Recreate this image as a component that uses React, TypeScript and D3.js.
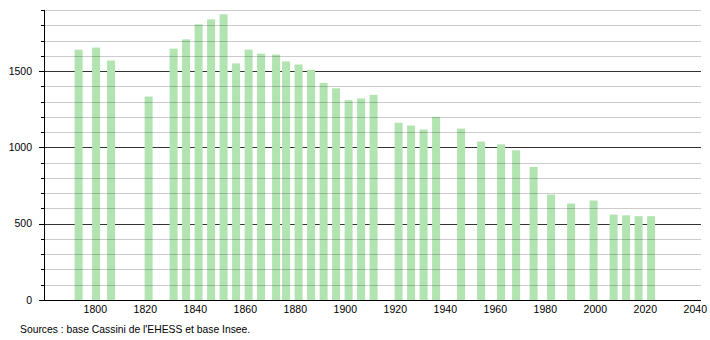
import React from "react";
import * as d3 from "d3";

const years = [1793, 1800, 1806, 1821, 1831, 1836, 1841, 1846, 1851, 1856, 1861, 1866, 1872, 1876, 1881, 1886, 1891, 1896, 1901, 1906, 1911, 1921, 1926, 1931, 1936, 1946, 1954, 1962, 1968, 1975, 1982, 1990, 1999, 2007, 2012, 2017, 2022];
const population = [1640, 1654, 1569, 1333, 1647, 1708, 1806, 1839, 1872, 1550, 1640, 1614, 1608, 1563, 1543, 1508, 1422, 1387, 1309, 1320, 1344, 1161, 1143, 1117, 1200, 1123, 1038, 1020, 981, 872, 691, 632, 652, 560, 555, 549, 549];
const xTicks = [1800, 1820, 1840, 1860, 1880, 1900, 1920, 1940, 1960, 1980, 2000, 2020, 2040];
const yMajorTicks = [0, 500, 1000, 1500];
const yMinorTicks = d3.range(100, 2000, 100).filter((v) => v % 500 !== 0);
const sourceText = "Sources : base Cassini de l'EHESS et base Insee.";

const W = 710;
const H = 340;
const left = 44;
const right = 701;
const bottom = 300;
const top = 10;

export default function App() {
  const x = d3.scaleLinear().domain([1779.48, 2042.28]).range([left, right]);
  const y = d3.scaleLinear().domain([0, 1900]).range([bottom, top]);
  const barW = 8;
  const font = "'Liberation Sans', Arial, sans-serif";

  return (
    <svg width={W} height={H} style={{ position: "absolute", left: 0, top: 0, background: "#fff" }} fontFamily={font}>
      {yMajorTicks.filter((v) => v > 0).map((v) => (
        <line key={"M" + v} x1={left} x2={right} y1={Math.round(y(v)) + 0.5} y2={Math.round(y(v)) + 0.5} stroke="#333" strokeWidth={1} />
      ))}
      {years.map((yr, i) => (
        <rect key={yr} x={x(yr) - barW / 2 + 0.8} y={y(population[i])} width={barW} height={bottom - y(population[i])} fill="#b2e4b2" />
      ))}
      {yMinorTicks.map((v) => (
        <line key={"m" + v} x1={left} x2={right} y1={Math.round(y(v)) + 0.5} y2={Math.round(y(v)) + 0.5} stroke="rgba(0,0,0,0.2)" strokeWidth={1} />
      ))}
      <line x1={left + 0.5} x2={left + 0.5} y1={top} y2={bottom} stroke="#000" strokeWidth={1} />
      {yMinorTicks.map((v) => (
        <line key={"mt" + v} x1={left - 3} x2={left} y1={Math.round(y(v)) + 0.5} y2={Math.round(y(v)) + 0.5} stroke="#000" strokeWidth={1} />
      ))}
      {yMajorTicks.map((v) => (
        <g key={"Mt" + v}>
          <line x1={left - 5} x2={left} y1={Math.round(y(v)) + 0.5} y2={Math.round(y(v)) + 0.5} stroke="#000" strokeWidth={1} />
          <text x={32} y={y(v)} dy="0.35em" textAnchor="end" fontSize={10.5} fill="#000">{v}</text>
        </g>
      ))}
      <line x1={left - 5} x2={right} y1={bottom + 0.5} y2={bottom + 0.5} stroke="#000" strokeWidth={1} />
      {xTicks.map((t) => (
        <text key={"x" + t} x={x(t)} y={313} textAnchor="middle" fontSize={10.5} fill="#000">{t}</text>
      ))}
      <text x={20} y={333} fontSize={10.35} fill="#000">{sourceText}</text>
    </svg>
  );
}
